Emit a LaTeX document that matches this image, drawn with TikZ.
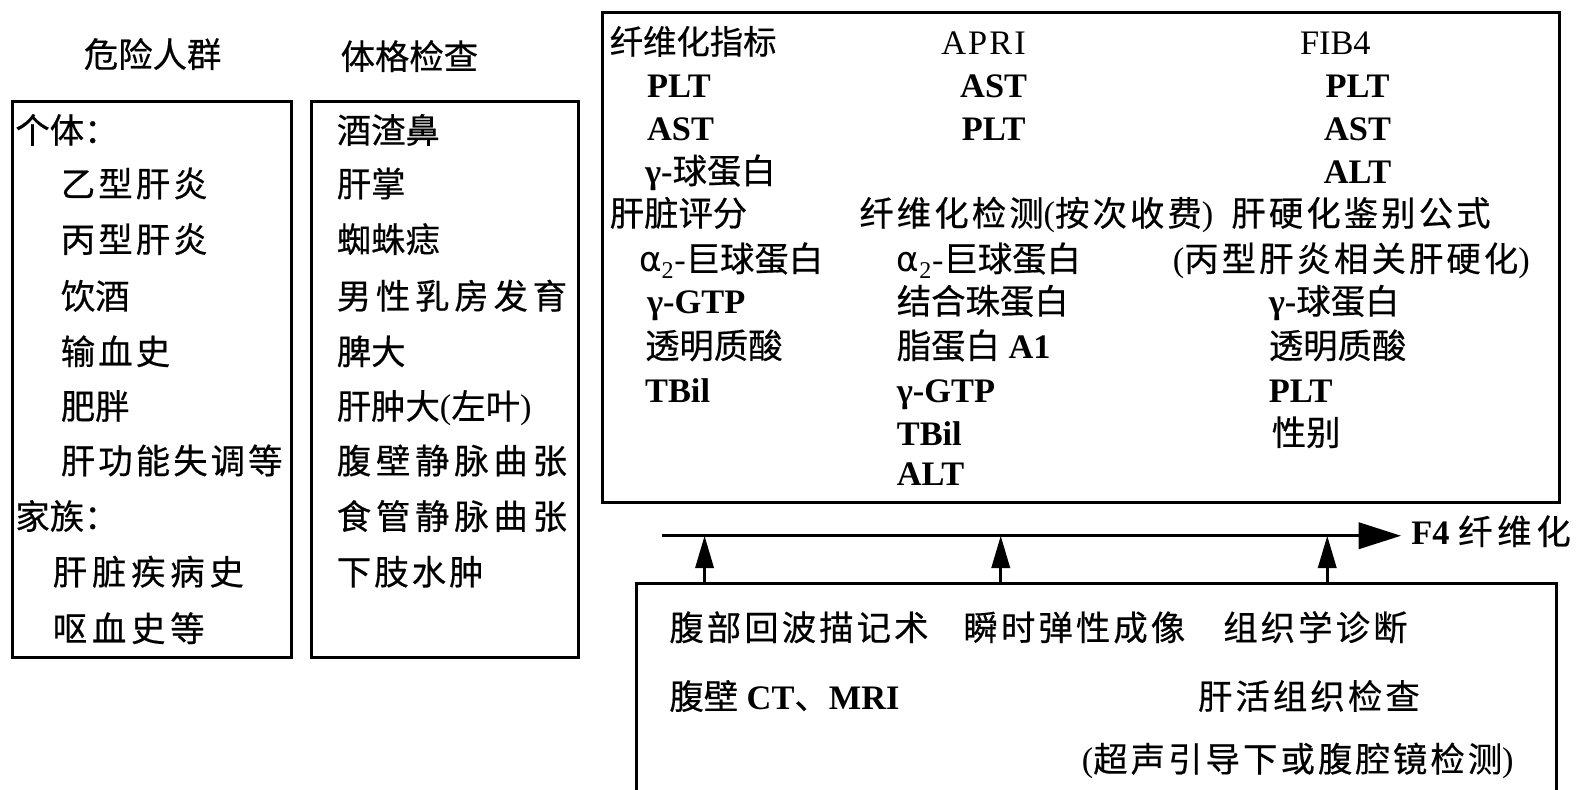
\documentclass[tikz,border=0pt]{standalone}
\usepackage{fontspec}
\setmainfont{Liberation Serif}
\newfontfamily\cjk{Noto Sans CJK SC}[LetterSpace=9,FakeBold=0.5]
\newfontfamily\cjkw{Noto Sans CJK SC}[LetterSpace=14,FakeBold=0.5]
\newfontfamily\cjkn{Noto Sans CJK SC}[FakeBold=0.5]
\newfontfamily\grk{DejaVu Sans}
\usetikzlibrary{arrows.meta}
\newcommand{\alphatwo}{{\grk α}\textsubscript{2}}
\begin{document}
\begin{tikzpicture}[x=1pt,y=-1pt,
  box/.style={draw, line width=3pt, inner sep=0pt},
  t/.style={anchor=west, inner sep=0pt, text height=24pt, text depth=7pt, font=\fontsize{34}{40}\selectfont},
  tc/.style={t, anchor=center},
  arr/.style={line width=3pt, -{Triangle[length=42pt,width=26pt]}},
  varr/.style={line width=3pt, -{Triangle[length=32pt,width=18pt]}}]
\useasboundingbox (0,0) rectangle (1568,781);
% boxes
\node[box, minimum width=276pt, minimum height=550pt] (b1) at (150,375) {};
\node[box, minimum width=264pt, minimum height=550pt] (b2) at (440,375) {};
\node[box, minimum width=947pt, minimum height=485pt] (b3) at (1069.5,254.5) {};
\node[box, minimum width=910pt, minimum height=223pt] (b4) at (1085,688.5) {};
% titles
\node[tc] (h1) at (151,58) {\cjkn 危险人群};
\node[tc] (h2) at (405,60) {\cjkn 体格检查};
% left box
\node[t] (l0) at (15,133) {\cjkn 个体：};
\node[t] (l1) at (60,186) {\cjk 乙型肝炎};
\node[t] (l2) at (60,241) {\cjk 丙型肝炎};
\node[t] (l3) at (60,297) {\cjkn 饮酒};
\node[t] (l4) at (60,352) {\cjk 输血史};
\node[t] (l5) at (60,406) {\cjkn 肥胖};
\node[t] (l6) at (60,460) {\cjk 肝功能失调等};
\node[t] (l7) at (15,515) {\cjkn 家族：};
\node[t] (l8) at (52,570) {\cjkw 肝脏疾病史};
\node[t] (l9) at (52,626) {\cjkw 呕血史等};
% second box
\node[t] (m0) at (333,133) {\cjkn 酒渣鼻};
\node[t] (m1) at (333,186) {\cjkn 肝掌};
\node[t] (m2) at (333,241) {\cjkn 蜘蛛痣};
\node[t] (m3) at (333,297) {\cjkw 男性乳房发育};
\node[t] (m4) at (333,352) {\cjkn 脾大};
\node[t] (m5) at (333,406) {{\cjkn 肝肿大}({\cjkn 左叶})};
\node[t] (m6) at (333,460) {\cjkw 腹壁静脉曲张};
\node[t] (m7) at (333,515) {\cjkw 食管静脉曲张};
\node[t] (m8) at (333,570) {\cjk 下肢水肿};
% top right box
\node[t] (r1) at (603,45) {\fontsize{33}{38}\selectfont\cjkn 纤维化指标};
\node[tc] (r2) at (973,45) {\addfontfeature{LetterSpace=6}APRI};
\node[tc] (r3) at (1321,45) {FIB4};
\node[t] (r4) at (640,88) {\textbf{PLT}};
\node[tc] (r5) at (983,88) {\textbf{AST}};
\node[tc] (r6) at (1343,88) {\textbf{PLT}};
\node[t] (r7) at (640,130) {\textbf{AST}};
\node[tc] (r8) at (983,130) {\textbf{PLT}};
\node[tc] (r9) at (1343,130) {\textbf{AST}};
\node[t] (r10) at (638,173) {\textbf{γ-}{\cjkn 球蛋白}};
\node[tc] (r11) at (1343,173) {\textbf{ALT}};
\node[t] (r12) at (603,215) {\cjkn 肝脏评分};
\node[t] (r13) at (850,215) {{\cjk 纤维化检测}({\cjk 按次收费})};
\node[t] (r14) at (1218,215) {\cjk 肝硬化鉴别公式};
\node[t] (r15) at (632,260) {\alphatwo-{\cjkn 巨球蛋白}};
\node[t] (r16) at (887,260) {\alphatwo-{\cjkn 巨球蛋白}};
\node[t] (r17) at (1160,260) {({\cjk 丙型肝炎相关肝硬化})};
\node[t] (r18) at (640,302) {\textbf{γ-GTP}};
\node[t] (r19) at (887,302) {\cjkn 结合珠蛋白};
\node[t] (r20) at (1255,302) {\textbf{γ-}{\cjkn 球蛋白}};
\node[t] (r21) at (638,346) {\cjkn 透明质酸};
\node[t] (r22) at (887,346) {{\cjkn 脂蛋白} \textbf{A1}};
\node[t] (r23) at (1255,346) {\cjkn 透明质酸};
\node[t] (r24) at (638,390) {\textbf{TBil}};
\node[t] (r25) at (887,390) {\textbf{γ-GTP}};
\node[t] (r26) at (1255,390) {\textbf{PLT}};
\node[t] (r27) at (887,432) {\textbf{TBil}};
\node[t] (r28) at (1258,432) {\cjkn 性别};
\node[t] (r29) at (887,472) {\textbf{ALT}};
% arrow line
\coordinate (hs) at (655,530);
\node[t] (f4) at (1396,530) {\textbf{F4} {\cjkw 纤维化}};
\draw[arr, shorten >=10pt] (hs) -- (f4.west);
\coordinate (p1) at (697,530);
\coordinate (p2) at (990,530);
\coordinate (p3) at (1313,530);
\draw[varr] (b4.north -| p1) -- (p1);
\draw[varr] (b4.north -| p2) -- (p2);
\draw[varr] (b4.north -| p3) -- (p3);
% bottom box
\node[t] (s1) at (662,625) {\cjk 腹部回波描记术};
\node[t] (s2) at (953,625) {\cjk 瞬时弹性成像};
\node[t] (s3) at (1210,625) {\cjk 组织学诊断};
\node[t] (s4) at (662,693) {{\cjkn 腹壁} \textbf{CT}{\cjkn 、}\textbf{MRI}};
\node[t] (s5) at (1185,693) {\cjk 肝活组织检查};
\node[t] (s6) at (1070,755) {({\cjk 超声引导下或腹腔镜检测})};
\end{tikzpicture}
\end{document}
